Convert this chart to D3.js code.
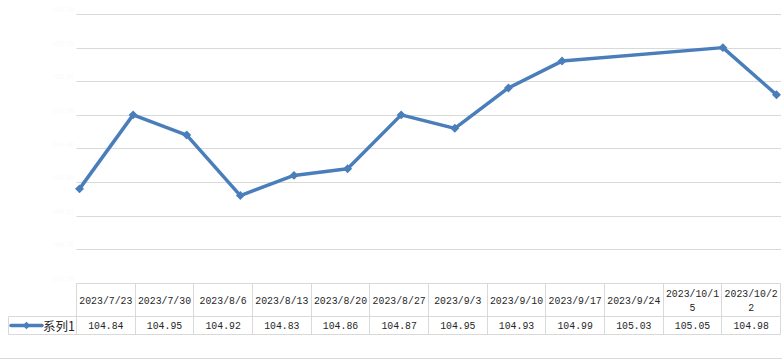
<!DOCTYPE html>
<html><head><meta charset="utf-8">
<script src="https://cdn.jsdelivr.net/npm/d3@7/dist/d3.min.js"></script>
<style>body{margin:0;background:#fff;}svg{display:block;}</style>
</head><body>
<svg id="c" width="782" height="359"></svg>
<script>
const categories = ["2023/7/23","2023/7/30","2023/8/6","2023/8/13","2023/8/20","2023/8/27","2023/9/3","2023/9/10","2023/9/17","2023/9/24","2023/10/15","2023/10/22"];
const seriesName = "系列1";
const values = [104.84,104.95,104.92,104.83,104.86,104.87,104.95,104.93,104.99,105.03,105.05,104.98];
const valueLabels = ["104.84","104.95","104.92","104.83","104.86","104.87","104.95","104.93","104.99","105.03","105.05","104.98"];
const yTicks = [104.70,104.75,104.80,104.85,104.90,104.95,105.00,105.05,105.10];

const svg = d3.select("#c");
const blue = "#4a7ebb", grid = "#d9d9d9";
const parse = d3.timeParse("%Y/%m/%d");
const dates = categories.map(parse);

const plotL = 76.5, plotR = 781, plotT = 14, plotB = 283;
const x = d3.scaleTime().domain(d3.extent(dates)).range([79.5, 776.5]);
const y = d3.scaleLinear().domain([104.70, 105.10]).range([plotB, plotT]);

// gridlines
svg.append("g").selectAll("line").data(yTicks.slice(1)).join("line")
  .attr("x1", plotL).attr("x2", plotR)
  .attr("y1", d => Math.round(y(d)) + 0.5).attr("y2", d => Math.round(y(d)) + 0.5)
  .attr("stroke", grid).attr("stroke-width", 1);

// faint y labels (nearly invisible in original)
svg.append("g").selectAll("text").data(yTicks).join("text")
  .attr("x", 74).attr("y", d => y(d) - 2)
  .attr("text-anchor", "end").attr("font-size", 7)
  .attr("font-family", "Liberation Sans").attr("fill", "#fafafa")
  .text(d => d.toFixed(2));

// line
const line = d3.line().x((d, i) => x(dates[i])).y(d => y(d));
svg.append("path").datum(values).attr("d", line)
  .attr("fill", "none").attr("stroke", blue).attr("stroke-width", 3.5)
  .attr("stroke-linejoin", "round").attr("stroke-linecap", "round");
const diamond = d3.symbol().type(d3.symbolSquare).size(40);
svg.append("g").selectAll("path").data(values).join("path")
  .attr("d", diamond)
  .attr("transform", (d, i) => `translate(${x(dates[i])},${y(d)}) rotate(45)`)
  .attr("fill", blue);

// data table
const colX = d3.scaleBand().domain(categories).range([76.5, 780.5]);
const rowTop = 283.5, rowMid = 316.5, rowBot = 334.5, legL = 8.5;
const tbl = svg.append("g").attr("stroke", grid).attr("stroke-width", 1);
tbl.append("line").attr("x1", 76.5).attr("x2", 780.5).attr("y1", rowTop).attr("y2", rowTop);
tbl.append("line").attr("x1", legL).attr("x2", 780.5).attr("y1", rowMid).attr("y2", rowMid);
tbl.append("line").attr("x1", legL).attr("x2", 780.5).attr("y1", rowBot).attr("y2", rowBot);
tbl.append("line").attr("x1", legL).attr("x2", legL).attr("y1", rowMid).attr("y2", rowBot);
const edges = categories.map(c => colX(c)).concat([780.5]);
tbl.selectAll(".v").data(edges).join("line")
  .attr("x1", d => Math.round(d - 0.5) + 0.5).attr("x2", d => Math.round(d - 0.5) + 0.5)
  .attr("y1", rowTop).attr("y2", rowBot);
// chart bottom border
svg.append("line").attr("x1", 0).attr("x2", 782).attr("y1", 358.5).attr("y2", 358.5)
  .attr("stroke", grid);

const cw = 5.9; // char width
function addText(g, str, cx, cy) {
  g.append("text").attr("x", cx).attr("y", cy)
    .attr("text-anchor", "middle").attr("dominant-baseline", "central")
    .attr("font-family", "Liberation Mono").attr("font-size", 11.5)
    .attr("textLength", str.length * cw).attr("lengthAdjust", "spacingAndGlyphs")
    .attr("fill", "#262626").text(str);
}
const tg = svg.append("g");
categories.forEach((c, i) => {
  const cx = colX(c) + colX.bandwidth() / 2;
  if (c.length > 9) {
    addText(tg, c.slice(0, 9), cx, 293.5);
    addText(tg, c.slice(9), cx, 307.5);
  } else {
    addText(tg, c, cx, 300.5);
  }
  addText(tg, valueLabels[i], cx, 325.5);
});

// legend key
svg.append("line").attr("x1", 11).attr("x2", 42).attr("y1", 325.5).attr("y2", 325.5)
  .attr("stroke", blue).attr("stroke-width", 3.5).attr("stroke-linecap", "round");
svg.append("path").attr("d", d3.symbol().type(d3.symbolSquare).size(28)())
  .attr("transform", "translate(26.5,325.5) rotate(45)").attr("fill", blue);
svg.append("text").attr("x", 43).attr("y", 325.5).attr("dominant-baseline", "central")
  .attr("font-family", "Noto Sans CJK SC").attr("font-size", 12.5).attr("fill", "#262626")
  .text(seriesName);
</script>
</body></html>
